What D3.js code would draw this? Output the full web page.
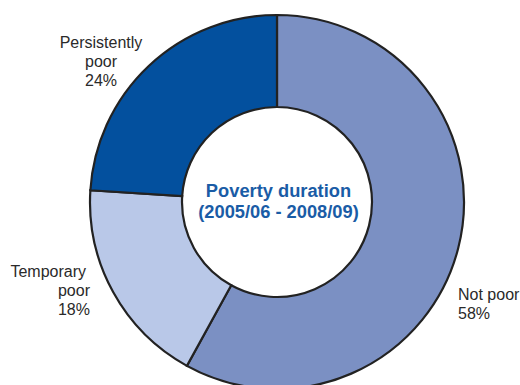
<!DOCTYPE html>
<html><head><meta charset="utf-8">
<script src="https://cdn.jsdelivr.net/npm/d3@7"></script>
<style>html,body{margin:0;padding:0;background:#fff;}svg{display:block;}</style>
</head><body>
<svg id="chart" width="520" height="385"></svg>
<script>
const categories = ["Not poor", "Temporary poor", "Persistently poor"];
const values = [58, 18, 24];
const colors = ["#7b90c3", "#b9c8e8", "#03509e"];
const labelLines = [["Not poor", "58%"], ["Temporary", "poor", "18%"], ["Persistently", "poor", "24%"]];
const titleLines = ["Poverty duration", "(2005/06 - 2008/09)"];

const svg = d3.select("#chart");
const cx = 277, cy = 202, rOuter = 187, rInner = 95;
const g = svg.append("g").attr("transform", `translate(${cx},${cy})`);

const data = categories.map((c, i) => ({ c, v: values[i], color: colors[i], lines: labelLines[i] }));
const pie = d3.pie().value(d => d.v).sort(null);
const arc = d3.arc().innerRadius(rInner).outerRadius(rOuter);
const arcs = pie(data);

g.selectAll("path").data(arcs).join("path")
  .attr("d", arc)
  .attr("fill", d => d.data.color)
  .attr("stroke", "#222")
  .attr("stroke-width", 2.2)
  .attr("stroke-linejoin", "miter");

// label positions: placed outside the ring (x per line)
const labelPos = [
  { xs: [458, 458], y: 300, anchor: "start" },
  { xs: [86, 90, 90], y: 277, anchor: "end" },
  { xs: [101, 101, 101], y: 48, anchor: "middle" }
];
arcs.forEach((a, i) => {
  const p = labelPos[i];
  const t = svg.append("text")
    .attr("x", p.xs[0]).attr("y", p.y)
    .attr("text-anchor", p.anchor)
    .attr("font-family", "Liberation Sans, Arial, sans-serif")
    .attr("font-size", 16)
    .attr("fill", "#2a2a2a");
  a.data.lines.forEach((ln, j) => {
    t.append("tspan").attr("x", p.xs[j]).attr("dy", j === 0 ? 0 : 19).text(ln);
  });
});

const tt = svg.append("text")
  .attr("x", 278.5).attr("y", 197)
  .attr("text-anchor", "middle")
  .attr("font-family", "Liberation Sans, Arial, sans-serif")
  .attr("font-weight", "bold")
  .attr("font-size", 18.3)
  .attr("fill", "#1a5ca6");
titleLines.forEach((ln, j) => {
  tt.append("tspan").attr("x", 278.5).attr("dy", j === 0 ? 0 : 20.5).text(ln);
});
</script>
</body></html>
